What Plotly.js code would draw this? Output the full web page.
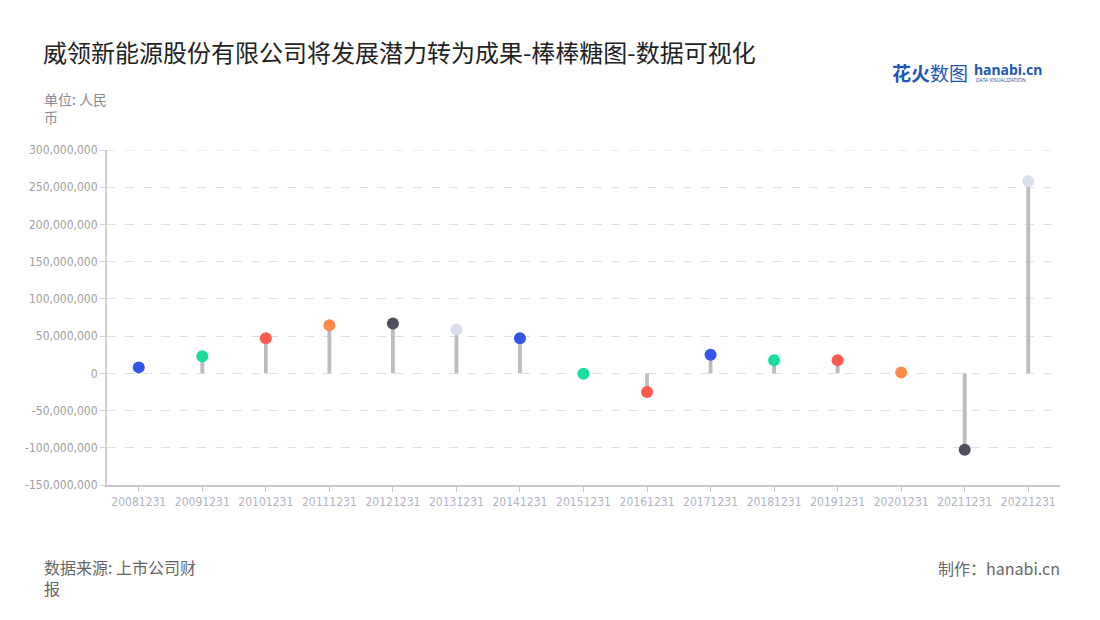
<!DOCTYPE html>
<html>
<head>
<meta charset="utf-8">
<script src="https://cdn.plot.ly/plotly-3.0.1.min.js"></script>
<style>html,body{margin:0;padding:0;background:#fff;}#chart{width:1100px;height:620px;}</style>
</head>
<body>
<div id="chart"></div>
<script>
const categories = ["20081231","20091231","20101231","20111231","20121231","20131231","20141231","20151231","20161231","20171231","20181231","20191231","20201231","20211231","20221231"];
const values = [8000000, 23000000, 47000000, 64500000, 67000000, 59000000, 47000000, -500000, -25000000, 25000000, 17500000, 17500000, 1000000, -102500000, 258000000];
const dotColors = ["#3355e8","#19dd9b","#ff5a52","#ff8b4a","#50505c","#dadeea","#3355e8","#19dd9b","#ff5a52","#3355e8","#19dd9b","#ff5a52","#ff8b4a","#50505c","#dadeea"];
const yTicks = [-150000000,-100000000,-50000000,0,50000000,100000000,150000000,200000000,250000000,300000000];
const yTickText = ["-150,000,000","-100,000,000","-50,000,000","0","50,000,000","100,000,000","150,000,000","200,000,000","250,000,000","300,000,000"];

const font = '"Noto Sans CJK SC","Noto Sans",sans-serif';

const data = [
  {type:'bar', x:categories, y:values, width:0.06, marker:{color:'#bdbdbd'}, hoverinfo:'skip'},
  {type:'scatter', mode:'markers', x:categories, y:values, marker:{size:12, color:dotColors}, cliponaxis:false}
];

const layout = {
  width:1100, height:620,
  margin:{l:107, r:40, t:150, b:135},
  paper_bgcolor:'#fff', plot_bgcolor:'#fff',
  showlegend:false,
  font:{family:font},
  title:{text:'威领新能源股份有限公司将发展潜力转为成果-棒棒糖图-数据可视化', x:43/1100, xanchor:'left', y:1-54/620, yanchor:'middle', font:{size:24, color:'#222', family:font}},
  xaxis:{type:'category', range:[-0.5,14.5], showgrid:false, showline:true, linecolor:'#c8c8c8', linewidth:2,
    ticks:'outside', ticklen:5, tickcolor:'#c8c8c8', tickfont:{size:12, color:'#b0b4c2', family:'"Liberation Sans Narrow","DejaVu Sans Condensed",sans-serif'}, zeroline:false, fixedrange:true},
  yaxis:{range:[-150000000,300000000], tickvals:yTicks, ticktext:yTickText, showgrid:true, gridcolor:'#e0e0e0', griddash:'dash', gridwidth:1,
    showline:true, linecolor:'#d0d0d0', linewidth:2, ticks:'outside', ticklen:5, tickcolor:'#d0d0d0',
    tickfont:{size:12, color:'#a0a0a0', family:'"Liberation Sans Narrow","DejaVu Sans Condensed",sans-serif'}, zeroline:false, fixedrange:true},
  shapes:[
    {type:'line', xref:'paper', yref:'y', x0:0, x1:1, y0:300000000, y1:300000000, line:{color:'#e0e0e0', width:1, dash:'dash'}, layer:'below'}
  ],
  annotations:[
    {text:'单位: 人民<br>币', xref:'paper', yref:'paper', x:-65/953, y:1+(150-87)/335, xanchor:'left', yanchor:'top', align:'left', showarrow:false, font:{size:14, color:'#8a8a96', family:font}},
    {text:'数据来源: 上市公司财<br>报', xref:'paper', yref:'paper', x:-65/953, y:-(553-485)/335, xanchor:'left', yanchor:'top', align:'left', showarrow:false, font:{size:16, color:'#666', family:font}},
    {text:'制作：hanabi.cn', xref:'paper', yref:'paper', x:1+2/953, y:-(554-485)/335, xanchor:'right', yanchor:'top', align:'right', showarrow:false, font:{size:16, color:'#666', family:font}},
    {text:'<b>花火</b>数图', xref:'paper', yref:'paper', x:(890-107)/953, y:1+(150-73)/335, xanchor:'left', yanchor:'middle', showarrow:false, font:{size:19, color:'#2355b8', family:font}},
    {text:'<b>hanabi.cn</b>', xref:'paper', yref:'paper', x:(972-107)/953, y:1+(150-70)/335, xanchor:'left', yanchor:'middle', showarrow:false, font:{size:14, color:'#2355b8', family:'"Noto Sans",sans-serif'}},
    {text:'DATA VISUALIZATION', xref:'paper', yref:'paper', x:(974-107)/953, y:1+(150-80)/335, xanchor:'left', yanchor:'middle', showarrow:false, font:{size:5, color:'#2355b8', family:'"Noto Sans",sans-serif'}}
  ]
};

Plotly.newPlot('chart', data, layout, {displayModeBar:false, staticPlot:true});
</script>
</body>
</html>
